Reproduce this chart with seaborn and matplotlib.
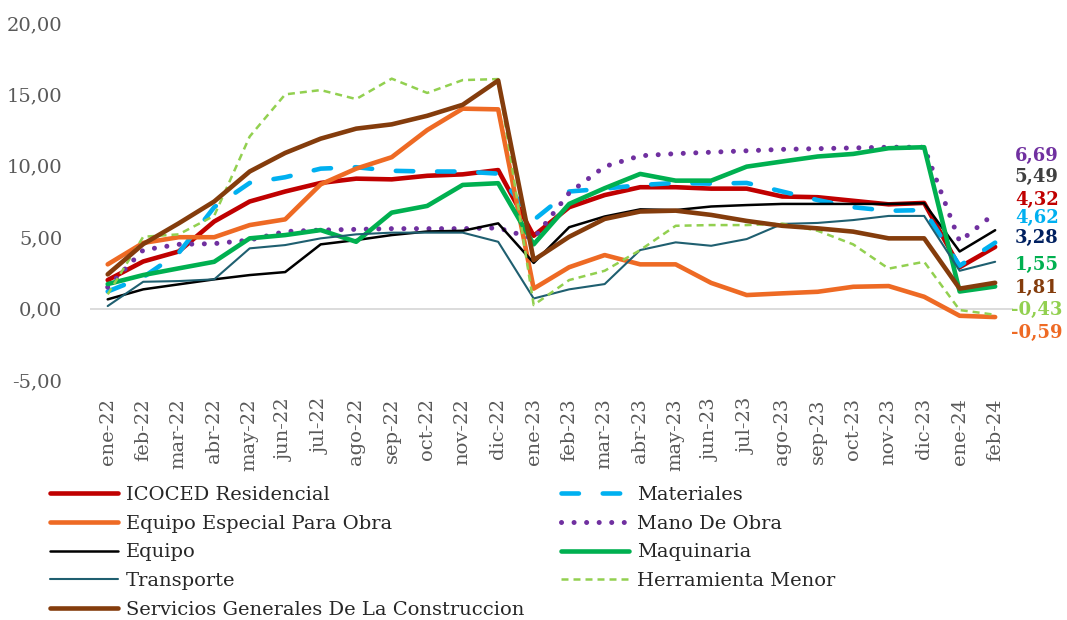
# Variación anual de los índices ICOCED (ene-22 a feb-24)

import matplotlib
matplotlib.use("Agg")
import matplotlib.pyplot as plt
from matplotlib.ticker import FuncFormatter
import numpy as np
import pandas as pd
import seaborn as sns


MESES = [
    "ene-22", "feb-22", "mar-22", "abr-22", "may-22", "jun-22", "jul-22",
    "ago-22", "sep-22", "oct-22", "nov-22", "dic-22", "ene-23", "feb-23",
    "mar-23", "abr-23", "may-23", "jun-23", "jul-23", "ago-23", "sep-23",
    "oct-23", "nov-23", "dic-23", "ene-24", "feb-24",
]

ICOCED = [2.0, 3.3, 4.0, 6.1, 7.5, 8.2, 8.8, 9.1, 9.05, 9.3, 9.4, 9.7, 5.1,
          7.1, 7.95, 8.5, 8.5, 8.4, 8.4, 7.85, 7.8, 7.55, 7.3, 7.4, 2.9, 4.32]
MATERIALES = [1.2, 2.2, 3.9, 7.1, 8.8, 9.2, 9.8, 9.9, 9.65, 9.6, 9.6, 9.45, 6.2,
              8.2, 8.4, 8.65, 8.8, 8.75, 8.8, 8.2, 7.6, 7.1, 6.85, 6.9, 3.0, 4.62]
EQUIPO_ESPECIAL = [3.1, 4.6, 5.0, 5.0, 5.85, 6.25, 8.7, 9.8, 10.6, 12.5, 14.0, 13.95, 1.4,
                   2.9, 3.75, 3.1, 3.1, 1.8, 0.95, 1.07, 1.18, 1.53, 1.58, 0.83, -0.5, -0.59]
MANO_OBRA = [1.5, 4.1, 4.5, 4.55, 4.8, 5.4, 5.5, 5.55, 5.6, 5.6, 5.6, 5.65, 4.9,
             8.1, 9.95, 10.7, 10.85, 10.95, 11.05, 11.15, 11.2, 11.25, 11.3, 11.3, 4.7, 6.69]
EQUIPO = [0.65, 1.35, 1.7, 2.05, 2.35, 2.56, 4.5, 4.8, 5.15, 5.4, 5.45, 5.97, 3.2,
          5.7, 6.45, 6.95, 6.9, 7.15, 7.25, 7.33, 7.33, 7.33, 7.33, 7.38, 4.0, 5.49]
MAQUINARIA = [1.72, 2.35, 2.82, 3.28, 4.92, 5.15, 5.5, 4.68, 6.72, 7.19, 8.66, 8.78, 4.5,
              7.33, 8.43, 9.43, 8.96, 8.96, 9.94, 10.3, 10.65, 10.83, 11.23, 11.3, 1.2, 1.55]
TRANSPORTE = [0.18, 1.88, 1.93, 2.05, 4.22, 4.45, 4.92, 5.2, 5.32, 5.32, 5.32, 4.68, 0.71,
              1.35, 1.72, 4.1, 4.64, 4.4, 4.87, 5.93, 6.0, 6.2, 6.49, 6.49, 2.65, 3.28]
HERRAMIENTA = [1.0, 5.03, 5.2, 6.5, 12.05, 15.0, 15.3, 14.67, 16.1, 15.1, 16.0, 16.07, 0.25,
               2.0, 2.65, 4.1, 5.8, 5.85, 5.85, 5.95, 5.45, 4.5, 2.8, 3.28, -0.1, -0.43]
SERVICIOS = [2.4, 4.52, 5.97, 7.5, 9.6, 10.9, 11.9, 12.6, 12.9, 13.5, 14.27, 15.97, 3.4,
             5.03, 6.28, 6.8, 6.86, 6.56, 6.14, 5.8, 5.62, 5.39, 4.92, 4.92, 1.4, 1.81]

# nombre, valores, color, grosor, estilo (orden de dibujo como en Excel)
SERIES = [
    ("ICOCED Residencial", ICOCED, "#c00000", 3.3, "-"),
    ("Materiales", MATERIALES, "#00b0f0", 3.3, (0, (3.8, 5.2))),
    ("Equipo Especial Para Obra", EQUIPO_ESPECIAL, "#ee6a24", 3.3, "-"),
    ("Mano De Obra", MANO_OBRA, "#7030a0", 3.6, (0, (0.01, 2.5))),
    ("Equipo", EQUIPO, "#000000", 1.8, "-"),
    ("Maquinaria", MAQUINARIA, "#00b050", 3.3, "-"),
    ("Transporte", TRANSPORTE, "#1f5f70", 1.5, "-"),
    ("Herramienta Menor", HERRAMIENTA, "#92d050", 1.8, (0, (2.8, 2.0))),
    ("Servicios Generales De La Construccion", SERVICIOS, "#843c0c", 3.3, "-"),
]

LEGEND_ORDER = [
    "ICOCED Residencial", "Equipo Especial Para Obra", "Equipo", "Transporte",
    "Servicios Generales De La Construccion",
    "Materiales", "Mano De Obra", "Maquinaria", "Herramienta Menor",
]

# etiquetas finales (serie, color del texto) y su posición vertical
END_LABELS = [
    ("Mano De Obra", "#7030a0"),
    ("Equipo", "#404040"),
    ("ICOCED Residencial", "#c00000"),
    ("Materiales", "#00b0f0"),
    ("Transporte", "#002060"),
    ("Maquinaria", "#00b050"),
    ("Servicios Generales De La Construccion", "#843c0c"),
    ("Herramienta Menor", "#92d050"),
    ("Equipo Especial Para Obra", "#ee6a24"),
]
END_LABEL_Y = [10.70, 9.22, 7.58, 6.38, 4.98, 3.08, 1.47, -0.11, -1.72]


def coma(v, pos=None):
    return f"{v:.2f}".replace(".", ",")


sns.set_theme(style="white")
plt.rcParams["font.family"] = ["DejaVu Serif"]
plt.rcParams["axes.unicode_minus"] = False

fig = plt.figure(figsize=(10.67, 6.2), dpi=100)
ax = fig.add_axes([0.0843, 0.387, 0.865, 0.576])

handles = {}
for nombre, valores, color, lw, ls in SERIES:
    df = pd.DataFrame({"idx": np.arange(len(MESES)), "valor": valores})
    sns.lineplot(data=df, x="idx", y="valor", color=color, linewidth=lw,
                 linestyle=ls, sort=False, ax=ax, legend=False)
    line = ax.lines[-1]
    if ls != "-":
        line.set_dash_capstyle("round" if nombre != "Herramienta Menor" else "butt")
    line.set_solid_joinstyle("round")
    handles[nombre] = line

ax.axhline(0, color="#d9d9d9", lw=1.3, zorder=0)

ax.set_xlim(-0.5, 25.5)
ax.set_ylim(-5, 20)
ax.set_yticks([-5, 0, 5, 10, 15, 20])
ax.yaxis.set_major_formatter(FuncFormatter(coma))
ax.set_xticks(np.arange(len(MESES)))
ax.set_xticklabels(MESES, rotation=90)
ax.tick_params(axis="y", length=0, pad=20, labelsize=14, labelcolor="#595959")
ax.tick_params(axis="x", length=0, pad=13, labelsize=14, labelcolor="#595959")
ax.set_xlabel("")
ax.set_ylabel("")
for s in ax.spines.values():
    s.set_visible(False)

valores_por_serie = {n: v for n, v, *_ in SERIES}
for (nombre, color), ypos in zip(END_LABELS, END_LABEL_Y):
    ax.text(26.17, ypos, coma(valores_por_serie[nombre][-1]), color=color,
            fontsize=13, fontweight="bold", ha="center", va="center", clip_on=False)

fig.legend(
    [handles[n] for n in LEGEND_ORDER],
    LEGEND_ORDER,
    ncol=2,
    loc="upper left",
    bbox_to_anchor=(50 / 1067, 1 - 486 / 620),
    frameon=False,
    fontsize=14,
    handlelength=3.5,
    handletextpad=0.4,
    labelspacing=0.55,
    columnspacing=1.9,
    borderaxespad=0,
    borderpad=0,
)

fig.savefig("out.png", dpi=100)
